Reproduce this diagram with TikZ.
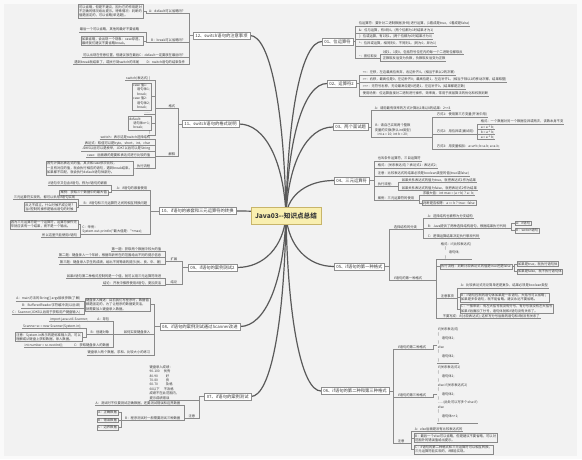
\documentclass[tikz,border=0pt]{standalone}
\usepackage{fontspec}
\defaultfontfeatures[\rmfamily,\sffamily]{}
\setmainfont{Noto Sans CJK SC}
\definecolor{bgc}{HTML}{F2F2F2}
\definecolor{mgc}{HTML}{FAFAFA}
\definecolor{lcol}{HTML}{8A8A8A}
\definecolor{mcol}{HTML}{5A5A5A}
\definecolor{tcol}{HTML}{3A3A3A}
\definecolor{bcol}{HTML}{8E8E8E}
\definecolor{cfill}{HTML}{F9EFB0}
\definecolor{cdraw}{HTML}{C8B56A}
\pgfdeclarelayer{back}
\pgfsetlayers{back,main}
\newcommand\lnx[3]{\draw[lk] (#1) -- (#1 -| #3,0) |- (#2);}
\newcommand\cx{\symbol{94}}
\newcommand\tld{\symbol{126}}
\newcommand\ind{\hspace*{4pt}}
\tikzset{
  lk/.style={draw=lcol, line width=0.35pt},
  mainlk/.style={draw=mcol, line width=1.2pt},
  br/.style={draw=bcol, fill=white, line width=0.45pt, inner xsep=2.2pt, inner ysep=1.5pt, font=\fontsize{4.3}{5.2}\selectfont, text=tcol},
  ctrbox/.style={draw=cdraw, fill=cfill, line width=0.6pt, minimum width=70pt, minimum height=17pt, inner sep=0pt, font=\fontsize{6.6}{8}\selectfont\bfseries, text=tcol},
  lf/.style={font=\fontsize{3.3}{4.4}\selectfont, text=tcol, inner xsep=0.6pt, inner ysep=0.5pt, align=left,
     append after command={(\tikzlastnode.south west) edge[lk] (\tikzlastnode.south east)}},
  lb/.style={font=\fontsize{3.3}{4.4}\selectfont, text=tcol, inner xsep=1pt, inner ysep=0.8pt, align=left, draw=lcol, line width=0.35pt},
  rs/.style={anchor=south west},
  ls/.style={anchor=south east},
}
\begin{document}
\begin{tikzpicture}[x=1pt,y=-1pt]
\useasboundingbox (0,0) rectangle (582,459);
\begin{pgfonlayer}{back}
\fill[mgc] (0,0) rectangle (582,459);
\fill[bgc] (4,4) rectangle (577,456);
\end{pgfonlayer}

% centre
\node[ctrbox] (ctr) at (286,215.5) {Java03--知识点总结};

% ---------- 01
\node[br,anchor=west] (b01) at (322,41.5) {01、位运算符};
\node[lf,rs] (a1) at (358,26) {位运算符：要针对二进制数据(补码)进行运算，(1看成是true，0看成是false)};
\node[lf,rs] (a2) at (358,33) {\&：位与运算，有0则0。(两个位都为1时结果才为1)};
\node[lf,rs] (a3) at (358,39.5) {|：位或运算，有1则1。(两个位都为0时结果才为0)};
\node[lf,rs] (a4) at (358,46) {\cx：位异或运算，相同则0，不同则1。(同为0，异为1)};
\node[lf,rs] (a5) at (358,58) {\tld：按位取反};
\node[lf,rs] (a6) at (382,54.5) {0变1，1变0，包括符号位在内的每一个二进制位都取反};
\node[lf,rs] (a7) at (382,61) {正数取反后变为负数，负数取反后变为正数};
\foreach \n in {a1,a2,a3,a4,a5} {\lnx{b01.east}{\n.south west}{355}}
\foreach \n in {a6,a7} {\lnx{a5.south east}{\n.south west}{380}}

% ---------- 02
\node[br,anchor=west] (b02) at (327,83.5) {02、运算符2};
\node[lf,rs] (c1) at (362,75) {<<：左移，左边最高位丢弃，右边补齐0。(相当于乘以2的次幂)};
\node[lf,rs] (c2) at (362,82) {>>：右移，最高位是0，左边补齐0；最高位是1，左边补齐1。(相当于除以2的移动次幂，结果取整)};
\node[lf,rs] (c3) at (362,89) {>>>：无符号右移，无论最高位是0还是1，左边补齐0。(结果都是正数)};
\node[lf,rs] (c4) at (362,96) {使用场景：位运算直接对二进制进行操作，效率高，常用于底层算法的优化和权限判断};
\foreach \n in {c1,c2,c3,c4} {\lnx{b02.east}{\n.south west}{359.5}}

% ---------- 03
\node[br,anchor=west] (b03) at (333,127) {03、两个面试题};
\node[lf,rs] (d1) at (374,110) {A：请用最有效率的方式计算出2乘以8的结果：2<<3};
\node[lf,rs,align=center] (d2) at (374,137) {B：请自己实现两个整数\\变量的交换(默认int类型)\\int a = 10; int b = 20;};
\foreach \n in {d1,d2} {\lnx{b03.east}{\n.south west}{371}}
\node[lf,rs] (d3) at (436,117) {方式1：使用第三方变量(开发中用)};
\node[lf,rs] (d4) at (436,134) {方式2：用位异或(面试用)};
\node[lf,rs] (d5) at (436,149) {方式3：用变量相加：a=a+b; b=a-b; a=a-b;};
\foreach \n in {d3,d4,d5} {\lnx{d2.south east}{\n.south west}{432}}
\node[lf,rs] (d6) at (480,124) {格式：一个数据对另一个数据位异或两次，该数本身不变};
\node[lf,rs] (d7) at (480,129.5) {a = a \cx{} b;};
\node[lf,rs] (d8) at (480,134.5) {b = a \cx{} b;};
\node[lf,rs] (d9) at (480,139.5) {a = a \cx{} b;};
\foreach \n in {d6,d7,d8,d9} {\lnx{d4.south east}{\n.south west}{477}}

% ---------- 04
\node[br,anchor=west] (b04) at (334,180.5) {04、三元运算符};
\node[lf,rs] (e1) at (377,161) {也叫条件运算符，三目运算符};
\node[lf,rs] (e2) at (377,168) {格式：(关系表达式) ? 表达式1 : 表达式2;};
\node[lf,rs] (e3) at (377,176) {注意：比较表达式的结果必须是boolean类型的值(true或false)};
\node[lf,rs] (e4) at (377,186.5) {执行流程：};
\node[lf,rs] (e5) at (377,200) {案例：三元运算符的使用};
\foreach \n in {e1,e2,e3,e4,e5} {\lnx{b04.east}{\n.south west}{374}}
\node[lf,rs] (e6) at (401,182.5) {如果关系表达式的值为true，就把表达式1作为结果};
\node[lf,rs] (e7) at (401,190.5) {如果关系表达式的值为false，就把表达式2作为结果};
\foreach \n in {e6,e7} {\lnx{e4.south east}{\n.south west}{398}}
\node[lf,rs] (e8) at (422,195.5) {求最大值：int max = (a > b) ? a : b;};
\node[lb,anchor=west] (e9) at (422,203) {判断是否相等：a == b ? true : false};
\lnx{e5.south east}{e8.south west}{419}
\lnx{e5.south east}{e9.west}{419}

% ---------- 05
\node[br,anchor=west] (b05) at (334,266.5) {05、if语句的第一种格式};
\node[lf,rs] (f1) at (393,229.5) {选择结构的分类};
\node[lf,rs] (f2) at (393,280.5) {if语句的第一种格式};
\foreach \n in {f1,f2} {\lnx{b05.east}{\n.south west}{389}}
\node[lf,rs] (f3) at (427,218.5) {A：选择结构也被称为分支结构};
\node[lf,rs] (f4) at (427,228.5) {B：Java提供了两种选择结构语句，根据结果执行代码};
\node[lf,rs] (f5) at (427,238.5) {C：逻辑运算结果决定执行哪段代码};
\foreach \n in {f3,f4,f5} {\lnx{f1.south east}{\n.south west}{423}}
\node[lb,anchor=west] (f6) at (515,223) {A：if语句};
\node[lb,anchor=west] (f7) at (515,230.5) {B：switch语句};
\foreach \n in {f6,f7} {\lnx{f4.south east}{\n.west}{511}}
\node[lf,rs] (f8) at (440,259.5) {格式：if(比较表达式)\\\ind\{\\\ind\ind 语句体;\\\ind\}};
\node[lb,anchor=west] (f9) at (440,266.5) {执行流程：判断比较表达式的值是true还是false};
\node[lf,rs] (f10) at (440,298) {注意事项};
\node[lf,rs] (f11) at (442,318.5) {不要写成：if(比较表达式); 这样写分号后面的语句和if就没有关系了};
\lnx{f2.south east}{f8.south west}{436.5}
\lnx{f2.south east}{f9.west}{436.5}
\lnx{f2.south east}{f10.south west}{436.5}
\lnx{f2.south east}{f11.south west}{436.5}
\node[lb,anchor=west] (f12) at (517,264) {如果是true，就执行语句体};
\node[lb,anchor=west] (f13) at (517,271.5) {如果是false，就不执行语句体};
\foreach \n in {f12,f13} {\lnx{f9.east}{\n.west}{514}}
\node[lf,rs] (f14) at (460,288) {A：比较表达式无论简单还是复杂，结果必须是boolean类型};
\node[lb,anchor=west] (f15) at (460,297.5) {B：if语句控制的语句体如果是一条语句，大括号可以省略；\\如果是多条语句，就不能省略。建议永远不要省略。};
\node[lb,anchor=west] (f16) at (460,308.7) {C：一般来说：有左大括号就没有分号，有分号就没有左大括号\\如果if后面加了分号，语句体就和if语句没有关系了。};
\lnx{f10.south east}{f14.south west}{457}
\lnx{f10.south east}{f15.west}{457}
\lnx{f10.south east}{f16.west}{457}

% ---------- 06
\node[br,anchor=west] (b06) at (321,391) {06、if语句的第二种和第三种格式};
\node[lf,rs] (g1) at (397,349) {if语句的第二种格式};
\node[lf,rs] (g2) at (397,397) {if语句的第三种格式};
\node[lf,rs] (g3) at (397,443.5) {注意};
\foreach \n in {g1,g2,g3} {\lnx{b06.east}{\n.south west}{393}}
\node[lf,anchor=west] (g4) at (437,345) {if(关系表达式)\\\{\\\ind 语句体1;\\\}\\else\\\{\\\ind 语句体2;\\\}};
\node[lf,anchor=west] (g5) at (437,394) {if(关系表达式1)\\\{\\\ind 语句体1;\\\}\\else if(关系表达式2)\\\{\\\ind 语句体2;\\\}\\......(此处可以写多个else if)\\else\\\{\\\ind 语句体n+1;\\\}};
\lnx{g1.south east}{g4.west}{433}
\lnx{g2.south east}{g5.west}{433}
\node[lf,rs] (g6) at (414,431) {A：else后面是没有比较表达式的};
\node[lb,anchor=west] (g7) at (414,438) {B：最后一个else可以省略，但是建议不要省略，可以对\\范围外的错误值给出提示。};
\node[lb,anchor=west] (g8) at (414,449.5) {C：if语句的第二种格式和三元运算符可以相互转换，\\三元运算符能实现的，if都能实现。};
\lnx{g3.south east}{g6.south west}{411}
\lnx{g3.south east}{g7.west}{411}
\lnx{g3.south east}{g8.west}{411}

% ---------- 12
\node[br,anchor=east] (b12) at (250,35.5) {12、switch语句的注意事项};
\node[lf,ls] (h1) at (186,13) {A：default可以省略吗？};
\node[lf,ls] (h2) at (186,42) {B：break可以省略吗？};
\node[lf,ls] (h3) at (186,57.5) {C：default一定要放在最后吗？};
\node[lf,ls] (h4) at (186,64.5) {D：switch语句的结束条件};
\foreach \n in {h1,h2,h3,h4} {\lnx{b12.west}{\n.south east}{189.5}}
\node[lb,anchor=east] (h5) at (143,11.5) {可以省略，但是不建议，因为它的作用是对\\不正确的情况给出提示。特殊情况：判断的\\值是固定的，可以省略(单选题)。};
\lnx{h1.south west}{h5.east}{146}
\node[lf,ls] (h6) at (140,32) {最后一个可以省略，其他的最好不要省略};
\node[lb,anchor=east] (h7) at (143,41) {如果省略，会出现一个现象：case穿透。\\最终我们建议不要省略break。};
\lnx{h2.south west}{h6.south east}{146}
\lnx{h2.south west}{h7.east}{146}
\node[lf,ls] (h8) at (140,57.5) {可以出现在任意位置，但建议放在最后};
\node[lf,ls] (h9) at (140,64.5) {遇到break就结束了，或执行到switch的末尾};
\lnx{h3.south west}{h8.south east}{143}
\lnx{h4.south west}{h9.south east}{143}

% ---------- 11
\node[br,anchor=east] (b11) at (239,124) {11、switch语句的格式说明};
\node[lf,ls] (i1) at (176,108) {格式};
\node[lf,ls] (i2) at (176,156) {解释};
\foreach \n in {i1,i2} {\lnx{b11.west}{\n.south east}{178.5}}
\node[lf,ls] (i3) at (151,80.5) {switch(表达式) \{};
\node[lb,anchor=east] (i4) at (151,96.5) {case 值1:\\\ind 语句体1;\\\ind break;\\case 值2:\\\ind 语句体2;\\\ind break;};
\node[lf,ls] (i5) at (151,114.5) {......};
\node[lb,anchor=east] (i6) at (151,123.5) {default:\\\ind 语句体n+1;\\\ind break;};
\node[lf,ls] (i7) at (151,135) {\}};
\lnx{i1.south west}{i3.south east}{155}
\lnx{i1.south west}{i4.east}{155}
\lnx{i1.south west}{i5.south east}{155}
\lnx{i1.south west}{i6.east}{155}
\lnx{i1.south west}{i7.south east}{155}
\node[lf,ls] (i8) at (151,139.5) {switch：表示这是switch选择结构};
\node[lf,ls] (i9) at (151,145.5) {表达式：取值可以是byte，short，int，char};
\node[lf,ls] (i10) at (151,151.5) {JDK5以后可以是枚举，JDK7以后可以是String};
\node[lf,ls] (i11) at (151,157.5) {case：后面跟的是要和表达式进行比较的值};
\node[lf,ls] (i12) at (151,168) {执行流程};
\foreach \n in {i8,i9,i10,i11,i12} {\lnx{i2.south west}{\n.south east}{155}}
\node[lb,anchor=east] (i13) at (133,168) {首先计算出表达式的值，其次和case依次比较，\\一旦有对应的值，就会执行相应的语句，遇到break结束。\\如果都不匹配，就会执行default语句体部分。};
\lnx{i12.south west}{i13.east}{134.8}

% ---------- 10
\node[br,anchor=east] (b10) at (236,211) {10、if语句的嵌套和三元运算符的转换};
\node[lf,ls] (j1) at (148,190.5) {A：if语句的嵌套使用};
\node[lf,ls] (j2) at (148,205.5) {B：if语句和三元运算符之间的相互转换问题};
\node[lf,ls] (j3) at (143,234) {C：举例：\\System.out.println("最大值是："+max);};
\foreach \n in {j1,j2,j3} {\lnx{b10.west}{\n.south east}{150.5}}
\node[lf,ls] (j4) at (108,185.5) {if语句中又包含if语句，称为if语句的嵌套};
\node[lb,anchor=east] (j5) at (108,192.5) {案例：获取三个数据中的最大值};
\lnx{j1.south west}{j4.south east}{111}
\lnx{j1.south west}{j5.east}{111}
\node[lf,ls] (j6) at (76,199.5) {三元运算符实现的，都可以采用if语句实现};
\node[lb,anchor=east] (j7) at (76,207) {反之不成立。什么时候不成立呢？\\当if控制的操作是输出语句的时候};
\lnx{j2.south west}{j6.south east}{78.5}
\lnx{j2.south west}{j7.east}{78.5}
\node[lb,anchor=east] (j8) at (78,224.5) {因为三元运算符是一个运算符，运算符操作完\\毕就应该有一个结果，而不是一个输出。};
\node[lf,ls] (j9) at (78,237.5) {所以这里只能使用if语句};
\lnx{j3.south west}{j8.east}{80.5}
\lnx{j3.south west}{j9.south east}{80.5}

% ---------- 09
\node[br,anchor=east] (b09) at (237,267.5) {09、if语句的案例测试2};
\node[lf,ls] (k1) at (178,261.5) {扩展};
\node[lf,ls] (k2) at (178,284) {结论};
\foreach \n in {k1,k2} {\lnx{b09.west}{\n.south east}{182}}
\node[lf,ls] (k3) at (162,251) {第一题：获取两个数据中较大的值};
\node[lf,ls] (k4) at (162,257.5) {第二题：键盘录入一个年龄，根据年龄所在的范围给出不同的提示信息};
\node[lf,ls] (k5) at (162,264.5) {第三题：键盘录入学生的成绩，给出不同等级的提示(优、良、中、差)};
\foreach \n in {k3,k4,k5} {\lnx{k1.south west}{\n.south east}{165}}
\node[lf,ls] (k6) at (162,278.5) {如果if语句第二种格式控制的是一个值，就可以用三元运算符改进};
\node[lf,ls] (k7) at (162,285.5) {结论：开发中推荐使用if语句，更加灵活};
\foreach \n in {k6,k7} {\lnx{k2.south west}{\n.south east}{165}}

% ---------- 08
\node[br,anchor=east] (b08) at (240,326.5) {08、if语句的案例测试通过Scanner改进};
\node[lb,anchor=east] (l1) at (150,304.5) {键盘录入概述：目前我们写程序时，数据值\\都是固定的，为了让程序的数据更灵活，\\就需要加入键盘录入数据。};
\node[lf,ls] (l2) at (151,334.5) {如何实现键盘录入};
\node[lf,ls] (l3) at (151,355) {键盘录入两个数据，求和、比较大小的练习};
\lnx{b08.west}{l1.east}{154.5}
\lnx{b08.west}{l2.south east}{154.5}
\lnx{b08.west}{l3.south east}{154.5}
\node[lf,ls] (l4) at (81,301.5) {A：main方法的String[] args接收参数(了解)};
\node[lf,ls] (l5) at (81,308) {B：BufferedReader字符缓冲流(以后讲)};
\node[lf,ls] (l6) at (81,314.5) {C：Scanner(JDK5以后用于获取用户键盘输入)};
\foreach \n in {l4,l5,l6} {\lnx{l1.west}{\n.south east}{84.5}}
\node[lf,ls] (l7) at (110,321.5) {A：导包};
\node[lf,ls] (l8) at (110,334.5) {B：创建对象};
\node[lf,ls] (l9) at (110,347.5) {C：获取键盘录入的数据};
\foreach \n in {l7,l8,l9} {\lnx{l2.south west}{\n.south east}{113.5}}
\node[lf,ls] (l10) at (89,321.5) {import java.util.Scanner;};
\lnx{l7.south west}{l10.south east}{92}
\node[lf,ls] (l11) at (82,328.5) {Scanner sc = new Scanner(System.in);};
\node[lb,anchor=east] (l12) at (82,337) {注意：System.in表示的是标准输入流，可以\\理解成从键盘上获取数据，录入数据。};
\lnx{l8.south west}{l11.south east}{86}
\lnx{l8.south west}{l12.east}{86}
\node[lf,ls] (l13) at (64,347.5) {int number = sc.nextInt();};
\lnx{l9.south west}{l13.south east}{68}

% ---------- 07
\node[br,anchor=east] (b07) at (251,396.5) {07、if语句的案例测试};
\node[lf,ls] (m1) at (180,400) {键盘录入成绩：\\90-100\ind 优秀\\80-90\ind\ind 好\\70-80\ind\ind 良\\60-70\ind\ind 及格\\60以下\ind 不及格\\成绩不在此范围内，\\提示成绩错误};
\node[lf,ls] (m2) at (196,418.5) {注意};
\lnx{b07.west}{m1.south east}{199.5}
\lnx{b07.west}{m2.south east}{199.5}
\node[lf,ls] (m3) at (181,405.5) {A：测试时不仅要测试正确数据，还要测试错误和边界数据};
\node[lf,ls] (m4) at (181,420.5) {B：程序测试时一般需要测试三种数据};
\foreach \n in {m3,m4} {\lnx{m2.south west}{\n.south east}{184}}
\node[lb,anchor=east] (m5) at (118,412.5) {A：正确数据};
\node[lb,anchor=east] (m6) at (118,420) {B：错误数据};
\node[lb,anchor=east] (m7) at (118,427.5) {C：边界数据};
\foreach \n in {m5,m6,m7} {\lnx{m4.south west}{\n.east}{121.5}}

% ---------- main connectors
\begin{pgfonlayer}{back}
\draw[mainlk] (ctr.center) .. controls (287.8,111) and (302.2,41.5) .. (b01.west);
\draw[mainlk] (ctr.center) .. controls (288,136.3) and (304.5,83.5) .. (b02.west);
\draw[mainlk] (ctr.center) .. controls (288.4,162.4) and (307,127) .. (b03.west);
\draw[mainlk] (ctr.center) .. controls (288.4,194.5) and (307.6,180.5) .. (b04.west);
\draw[mainlk] (ctr.center) .. controls (288.4,246) and (307.6,266.5) .. (b05.west);
\draw[mainlk] (ctr.center) .. controls (287.8,320.8) and (301.8,391) .. (b06.west);
\draw[mainlk] (ctr.center) .. controls (284.2,107.5) and (269.8,35.5) .. (b12.east);
\draw[mainlk] (ctr.center) .. controls (283.7,160.6) and (264.9,124) .. (b11.east);
\draw[mainlk] (ctr.center) .. controls (283.5,212.8) and (263.5,211) .. (b10.east);
\draw[mainlk] (ctr.center) .. controls (283.6,246.7) and (264,267.5) .. (b09.east);
\draw[mainlk] (ctr.center) .. controls (283.7,282.1) and (265.3,326.5) .. (b08.east);
\draw[mainlk] (ctr.center) .. controls (284.3,324.1) and (270.3,396.5) .. (b07.east);
\end{pgfonlayer}
\end{tikzpicture}
\end{document}
